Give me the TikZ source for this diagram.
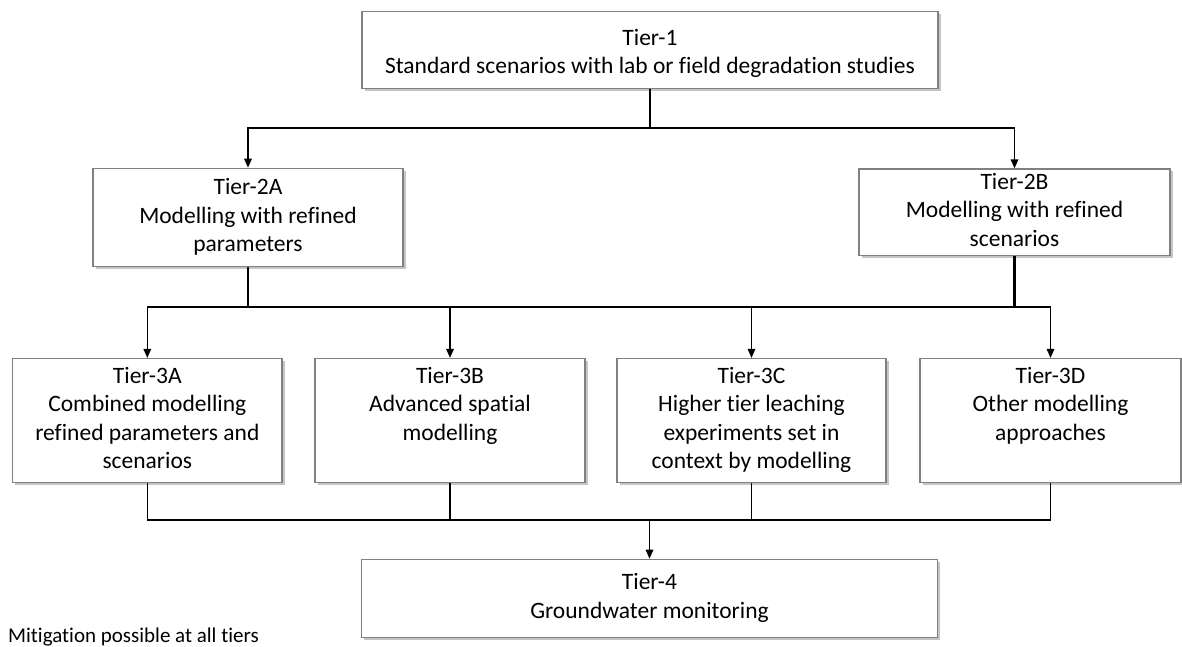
\documentclass[tikz,border=0pt]{standalone}
\usepackage{fontspec}
\setmainfont{Carlito}[Ligatures=NoCommon]
\usetikzlibrary{arrows.meta,shadows}
\definecolor{boxgray}{RGB}{128,128,128}
\begin{document}
\begin{tikzpicture}[x=1pt,y=-1pt,
  tbox/.style={draw=boxgray, line width=1.2pt, fill=white, align=center, inner sep=0pt,
    font=\fontsize{23.5}{28.5}\selectfont,
    drop shadow={shadow xshift=2.5pt, shadow yshift=-2.5pt, fill=black!45, opacity=0.5}},
  conn/.style={draw=black, line width=1.6pt},
  stem/.style={draw=black, line width=2.6pt},
  arr/.style={conn, -{Triangle[length=9pt,width=7.5pt]}},
  notetext/.style={anchor=west, inner sep=0pt, font=\fontsize{21}{25}\selectfont}]
\useasboundingbox (0,0) rectangle (1182,646);

\node[tbox, minimum width=576pt, minimum height=76.6pt] (t1) at (650,50)
  {\rule{0pt}{28pt}Tier-1\\Standard scenarios with lab or field degradation studies\strut};

\node[tbox, minimum width=310pt, minimum height=98.4pt] (t2a) at (248,217.5)
  {\strut Tier-2A\\Modelling with refined\\parameters\strut};
\node[tbox, minimum width=311pt, minimum height=86.5pt] (t2b) at (1014.5,212.2)
  {\strut Tier-2B\\Modelling with refined\\scenarios\strut};

\node[tbox, minimum width=269.4pt, minimum height=124pt] (t3a) at (147.3,420.5)
  {\strut Tier-3A\\Combined modelling\\refined parameters and\\scenarios\strut};
\node[tbox, minimum width=270pt, minimum height=124pt] (t3b) at (450,420.5)
  {\strut Tier-3B\\Advanced spatial\\modelling\\\strut};
\node[tbox, minimum width=269pt, minimum height=124pt] (t3c) at (751.5,420.5)
  {\strut Tier-3C\\Higher tier leaching\\experiments set in\\context by modelling\strut};
\node[tbox, minimum width=261pt, minimum height=124pt] (t3d) at (1050.5,420.5)
  {\strut Tier-3D\\Other modelling\\approaches\\\strut};

\node[tbox, minimum width=575.4pt, minimum height=78pt] (t4) at (649.5,598.3)
  {\strut Tier-4\\Groundwater monitoring\strut};

\node[notetext] (mit) at (8,637) {Mitigation possible at all tiers};

% Tier-1 to Tier-2
\coordinate (j1) at (650,128);
\draw[conn] (t1.south) -- (j1);
\draw[arr] (j1) -| (t2a.north);
\draw[arr] (j1) -| (t2b.north);

% Tier-2 to Tier-3
\coordinate (j2a) at (248,307);
\coordinate (j2b) at (1014.5,307);
\draw[stem] (t2a.south) -- (j2a);
\draw[stem] (t2b.south) -- (j2b);
\draw[conn] (j2a) -- (j2b);
\draw[arr] (j2a) -| (t3a.north);
\draw[arr] (j2a) -| (t3b.north);
\draw[arr] (j2b) -| (t3c.north);
\draw[arr] (j2b) -| (t3d.north);

% Tier-3 to Tier-4
\coordinate (j3) at (649.5,520);
\draw[conn] (t3a.south) |- (j3);
\draw[conn] (t3b.south) |- (j3);
\draw[conn] (t3c.south) |- (j3);
\draw[conn] (t3d.south) |- (j3);
\draw[arr] (j3) -- (t4.north);
\end{tikzpicture}
\end{document}
